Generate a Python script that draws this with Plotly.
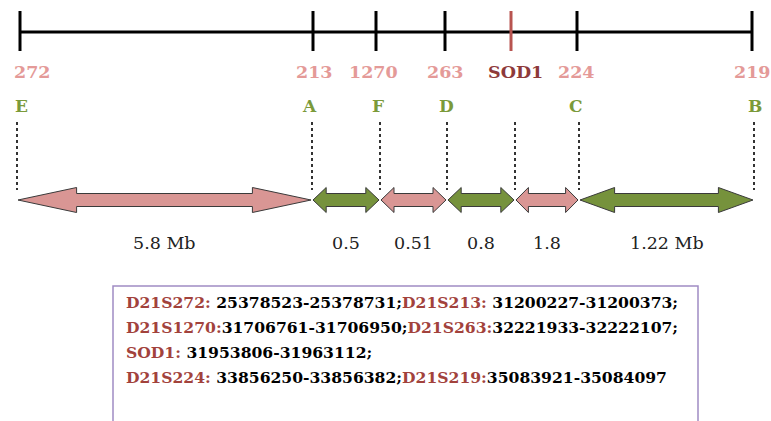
import plotly.graph_objects as go

# Marker order along the chromosome 21 map
marker_labels = ["272", "213", "1270", "263", "SOD1", "224", "219"]
marker_pos = [20, 313, 376, 445, 511, 577, 752]          # map coordinate of each tick
label_pos = [32, 314, 373, 445, 515, 576, 752]           # where each marker name sits
site_letters = ["E", "A", "F", "D", "", "C", "B"]
letter_pos = [21, 309, 378, 446, None, 576, 755]

# Interval boundaries (dotted guides) and the segment between each pair
guide_pos = [17, 312, 380, 447, 515, 579, 754]
segment_labels = ["5.8 Mb", "0.5", "0.51", "0.8", "1.8", "1.22 Mb"]
segment_kind = ["pink", "green", "pink", "green", "pink", "green"]

# Physical positions of each marker
coord_rows = [
    [("D21S272:", " 25378523-25378731;"), ("D21S213:", " 31200227-31200373;")],
    [("D21S1270:", "31706761-31706950;"), ("D21S263:", "32221933-32222107;")],
    [("SOD1:", " 31953806-31963112;")],
    [("D21S224:", " 33856250-33856382;"), ("D21S219:", "35083921-35084097")],
]

PINK_TXT = "#e49a98"
GREEN_TXT = "#7b9a3a"
SOD_TXT = "#8e3a3a"
FILL = {"pink": "#d99694", "green": "#76923c"}
SERIF = "DejaVu Serif, Liberation Serif, serif"

fig = go.Figure()

# Main map line and ticks
line_y, tick_top, tick_bot = 32, 11, 51
fig.add_trace(go.Scatter(x=[marker_pos[0], marker_pos[-1]], y=[line_y, line_y], mode="lines",
                         line=dict(color="black", width=3), hoverinfo="skip"))
for lab, x in zip(marker_labels, marker_pos):
    col = "#b85450" if lab == "SOD1" else "black"
    fig.add_trace(go.Scatter(x=[x, x], y=[tick_top, tick_bot], mode="lines",
                             line=dict(color=col, width=3), hoverinfo="skip"))

# Dotted guides
for x in guide_pos:
    fig.add_trace(go.Scatter(x=[x, x], y=[122, 190], mode="lines",
                             line=dict(color="#333333", width=2, dash="dot"), hoverinfo="skip"))

# Double-headed arrows between neighbouring guides
cy, shaft_h, head_h = 200, 6.5, 12.5
for i, kind in enumerate(segment_kind):
    x0, x1 = guide_pos[i] + 1, guide_pos[i + 1] - 1
    hl = 0.2 * (x1 - x0)
    xs = [x0, x0 + hl, x0 + hl, x1 - hl, x1 - hl, x1, x1 - hl, x1 - hl, x0 + hl, x0 + hl, x0]
    ys = [cy, cy - head_h, cy - shaft_h, cy - shaft_h, cy - head_h, cy, cy + head_h,
          cy + shaft_h, cy + shaft_h, cy + head_h, cy]
    fig.add_trace(go.Scatter(x=xs, y=ys, mode="lines", fill="toself", fillcolor=FILL[kind],
                             line=dict(color="#3a3a3a", width=1), hoverinfo="skip"))

annotations = []
for lab, x in zip(marker_labels, label_pos):
    annotations.append(dict(x=x, y=72, text=f"<b>{lab}</b>", showarrow=False,
                            font=dict(family=SERIF, size=17.5,
                                      color=SOD_TXT if lab == "SOD1" else PINK_TXT)))
for let, x in zip(site_letters, letter_pos):
    if let:
        annotations.append(dict(x=x, y=106, text=f"<b>{let}</b>", showarrow=False,
                                font=dict(family=SERIF, size=17, color=GREEN_TXT)))
for i, lab in enumerate(segment_labels):
    xm = (guide_pos[i] + guide_pos[i + 1]) / 2
    annotations.append(dict(x=xm, y=243, text=lab, showarrow=False,
                            font=dict(family=SERIF, size=17.5, color="#222222")))

row_y = [302, 327, 352, 377]
for y, row in zip(row_y, coord_rows):
    txt = "".join(f"<span style='color:#a2423c'>{n}</span>{v}" for n, v in row)
    annotations.append(dict(x=124, y=y, xanchor="left", text=f"<b>{txt}</b>", showarrow=False,
                            font=dict(family=SERIF, size=15.6, color="black")))

fig.update_layout(
    width=771, height=421, margin=dict(l=0, r=0, t=0, b=0),
    paper_bgcolor="white", plot_bgcolor="white", showlegend=False,
    xaxis=dict(range=[0, 771], visible=False, fixedrange=True),
    yaxis=dict(range=[421, 0], visible=False, fixedrange=True),
    annotations=annotations,
    shapes=[dict(type="rect", x0=113, x1=698, y0=286, y1=440,
                 line=dict(color="#a08cc4", width=1.5))],
)

fig.write_html("out.html")
